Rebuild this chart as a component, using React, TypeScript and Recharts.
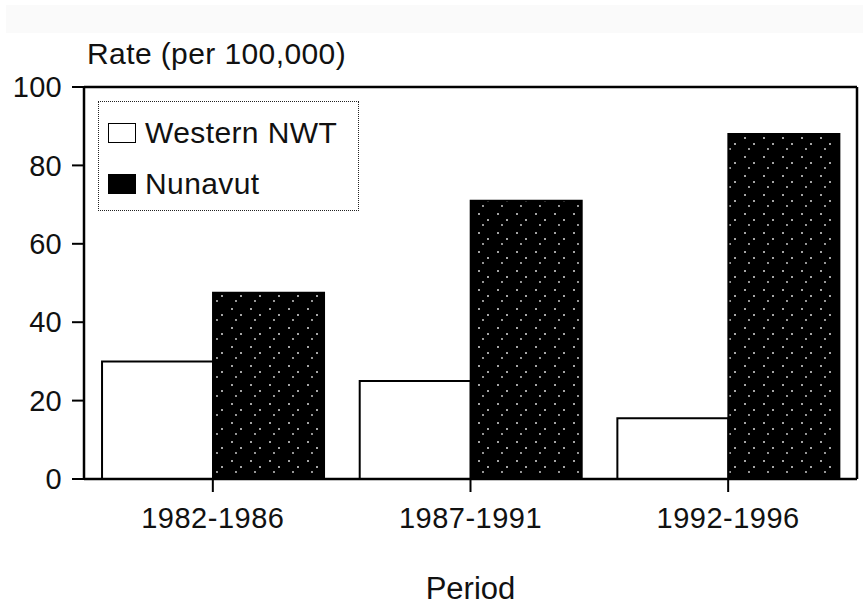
import React from 'react';
import { BarChart, Bar, XAxis, YAxis, CartesianGrid, Legend, ReferenceLine } from 'recharts';

const periods = ['1982-1986', '1987-1991', '1992-1996'];
const westernNwt = [30, 25, 15.5];
const nunavut = [47.5, 71, 88];
const yTicks = [0, 20, 40, 60, 80, 100];

const data = periods.map((p, i) => ({ period: p, western: westernNwt[i], nunavut: nunavut[i] }));

const FONT = '"Liberation Sans", Arial, sans-serif';

const LegendBox: React.FC = () => (
  <div
    style={{
      width: 261,
      height: 110,
      border: '1.5px dotted #222',
      background: '#fff',
      boxSizing: 'border-box',
      fontFamily: FONT,
      fontSize: 30,
      letterSpacing: 0.4,
      color: '#111',
      paddingLeft: 9,
      paddingTop: 5,
    }}
  >
    {[
      { label: 'Western NWT', fill: '#fff' },
      { label: 'Nunavut', fill: '#000' },
    ].map((it) => (
      <div key={it.label} style={{ display: 'flex', alignItems: 'center', height: 51 }}>
        <span
          style={{
            display: 'inline-block',
            width: 26,
            height: 18,
            border: '1.5px solid #000',
            background: it.fill,
            marginRight: 9,
          }}
        />
        <span>{it.label}</span>
      </div>
    ))}
  </div>
);

export default function App() {
  return (
    <div style={{ position: 'absolute', left: 0, top: 0, width: 863, height: 614, background: '#fff' }}>
      <div style={{ position: 'absolute', left: 6, top: 5, width: 857, height: 28, background: '#fafafa' }} />
      <div
        style={{
          position: 'absolute',
          left: 87,
          top: 37,
          fontFamily: FONT,
          fontSize: 30,
          letterSpacing: 0.4,
          color: '#111',
          whiteSpace: 'nowrap',
        }}
      >
        Rate (per 100,000)
      </div>
      <BarChart
        width={863}
        height={614}
        data={data}
        margin={{ top: 87, right: 0, left: 0, bottom: 95 }}
        barCategoryGap="7%"
        barGap={0}
        style={{ position: 'absolute', left: 0, top: 0 }}
      >
        <defs>
          <pattern id="stipple" width="19" height="19" patternUnits="userSpaceOnUse">
            <rect width="19" height="19" fill="#000" />
            <circle cx="4" cy="5" r="1" fill="#ddd" />
            <circle cx="13" cy="11" r="1" fill="#ddd" />
            <circle cx="8" cy="16" r="0.9" fill="#ddd" />
          </pattern>
        </defs>
        <CartesianGrid vertical={false} stroke="#555" strokeDasharray="4 2" />
        <XAxis
          dataKey="period"
          height={40}
          tickSize={13}
          tickMargin={15}
          axisLine={{ stroke: '#000', strokeWidth: 2.5 }}
          tickLine={{ stroke: '#000', strokeWidth: 2 }}
          tick={{ fill: '#111', fontSize: 29, fontFamily: FONT, letterSpacing: 0.5 }}
          label={{ value: 'Period', position: 'insideBottom', offset: -80, fill: '#111', fontSize: 31, fontFamily: FONT }}
        />
        <YAxis
          yAxisId="left"
          domain={[0, 100]}
          ticks={yTicks}
          width={84}
          tickSize={12}
          tickMargin={10}
          axisLine={{ stroke: '#000', strokeWidth: 2.5 }}
          tickLine={{ stroke: '#000', strokeWidth: 2 }}
          tick={{ fill: '#111', fontSize: 29, fontFamily: FONT, letterSpacing: 0.3 }}
        />
        <YAxis
          yAxisId="right"
          orientation="right"
          domain={[0, 100]}
          width={6}
          tick={false}
          tickLine={false}
          axisLine={{ stroke: '#000', strokeWidth: 2.5 }}
        />
        <ReferenceLine yAxisId="left" y={100} stroke="#000" strokeWidth={2.5} />
        <Legend
          layout="vertical"
          align="center"
          verticalAlign="middle"
          content={<LegendBox />}
          wrapperStyle={{ position: 'absolute', left: 98, top: 101, width: 261 }}
        />
        <Bar
          yAxisId="left"
          dataKey="western"
          name="Western NWT"
          fill="#fff"
          stroke="#000"
          strokeWidth={2}
          isAnimationActive={false}
        />
        <Bar
          yAxisId="left"
          dataKey="nunavut"
          name="Nunavut"
          fill="url(#stipple)"
          stroke="#000"
          strokeWidth={2}
          isAnimationActive={false}
        />
      </BarChart>
    </div>
  );
}
